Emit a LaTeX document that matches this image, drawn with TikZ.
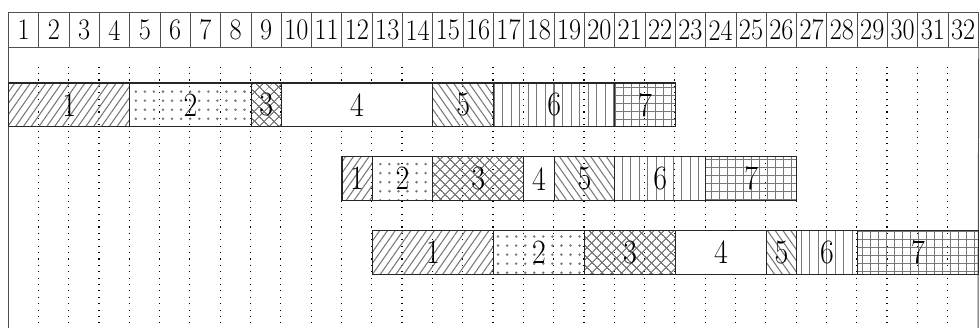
\documentclass[tikz,border=0pt]{standalone}
\usepackage{graphicx}
\usetikzlibrary{patterns.meta}
\definecolor{hatchgray}{RGB}{120,120,120}
\definecolor{framegray}{RGB}{80,80,80}
\newcommand{\slim}[1]{\scalebox{0.88}[1]{#1}}

\begin{document}
\begin{tikzpicture}[
    x=1cm, y=-1cm,
    numbox/.style={draw=framegray, line width=0.7pt, minimum width=1cm, minimum height=1.14cm, inner sep=0pt, anchor=north west, font=\fontsize{28}{28}\selectfont},
    task/.style={draw=black!85, line width=1pt, minimum height=1.45cm, inner sep=0pt, anchor=north west, font=\fontsize{32}{32}\selectfont},
    slot line/.style={line width=1.1pt, dash pattern=on 1pt off 5pt},
    p1/.style={pattern={Lines[angle=55, distance=6pt, line width=1pt]}, pattern color=hatchgray},
    p2/.style={pattern={Dots[distance=8.5pt, radius=1.3pt]}, pattern color=hatchgray},
    p3/.style={pattern={Hatch[angle=45, distance=6.5pt, line width=1pt]}, pattern color=hatchgray},
    p4/.style={fill=white},
    p5/.style={pattern={Lines[angle=-55, distance=6pt, line width=1pt]}, pattern color=hatchgray},
    p6/.style={pattern={Lines[angle=90, distance=8pt, line width=1pt]}, pattern color=hatchgray},
    p7/.style={pattern={Hatch[angle=0, distance=7.5pt, line width=1pt]}, pattern color=hatchgray}
  ]
  \useasboundingbox (-0.264,0) rectangle (32.066,10.79);

  % time slots
  \foreach \k in {1,...,31}
    \draw[slot line] (\k,2.2) -- (\k,10.65);
  \foreach \k in {1,...,32}
    \node[numbox] (t\k) at (\k-1,0.41) {\slim{\k}};
  \draw[framegray, line width=0.9pt] (t1.south west) -- (0,10.9);
  \draw[framegray, line width=0.9pt] (t32.south east) -- (32,10.9);

  % first run
  \foreach \i/\s/\len in {1/0/4, 2/4/4, 3/8/1, 4/9/5, 5/14/2, 6/16/4, 7/20/2}
    \node[task, p\i, minimum width=\len cm] (a\i) at (\s,2.72) {\slim{\i}};
  % second run
  \foreach \i/\s/\len in {1/11/1, 2/12/2, 3/14/3, 4/17/1, 5/18/2, 6/20/3, 7/23/3}
    \node[task, p\i, minimum width=\len cm] (b\i) at (\s,5.15) {\slim{\i}};
  % third run
  \foreach \i/\s/\len in {1/12/4, 2/16/3, 3/19/3, 4/22/3, 5/25/1, 6/26/2, 7/28/4}
    \node[task, p\i, minimum width=\len cm] (c\i) at (\s,7.59) {\slim{\i}};
\end{tikzpicture}
\end{document}
